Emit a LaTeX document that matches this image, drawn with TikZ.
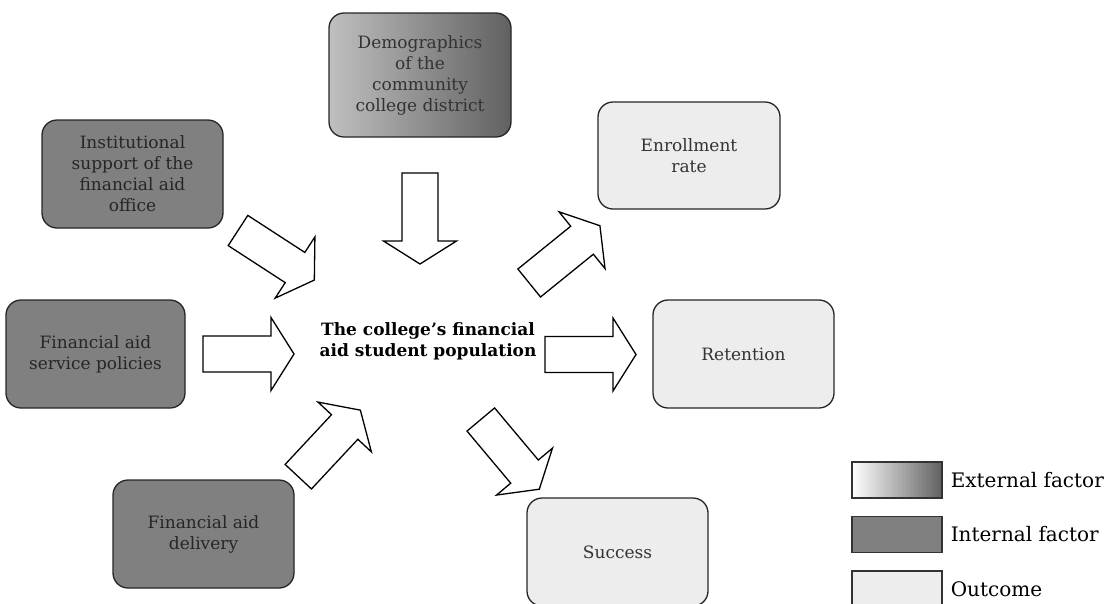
\documentclass[tikz,border=0pt]{standalone}
\usepackage{fontspec}
\setmainfont{DejaVu Serif}
\usetikzlibrary{positioning}

\begin{document}
\begin{tikzpicture}[x=1pt,y=-1pt,
factor/.style={draw=black!85, line width=1.3pt, rounded corners=15pt, align=center, inner sep=0pt, font=\fontsize{17}{21}\selectfont},
external/.style={factor, left color=black!25, right color=black!62, text=black!80},
internal/.style={factor, fill=black!50, text=black!85},
outcome/.style={factor, fill=black!7, text=black!80},
keybox/.style={draw=black!80, line width=1.2pt, minimum width=90pt, minimum height=36pt, inner sep=0pt},
keytext/.style={anchor=west, inner sep=0pt, font=\fontsize{20}{24}\selectfont},
bigarrow/.pic={\draw[line width=1.3pt, fill=white, line join=miter] (0,-18) -- (68,-18) -- (68,-36.5) -- (91,0) -- (68,36.5) -- (68,18) -- (0,18) -- cycle;}
]

\useasboundingbox (0,0) rectangle (1114,603);
\clip (0,0) rectangle (1114,603);


\node[external, minimum width=182pt, minimum height=124pt] (demo) at (420,75) {Demographics\\of the\\community\\college district};

\node[internal, minimum width=181pt, minimum height=108pt] (inst) at (132.5,174) {Institutional\\support of the\\financial aid\\office};
\node[internal, minimum width=179pt, minimum height=108pt] (service) at (95.5,354) {Financial aid\\service policies};
\node[internal, minimum width=181pt, minimum height=108pt] (delivery) at (203.5,534) {Financial aid\\delivery};

\node[outcome, minimum width=182pt, minimum height=107pt] (enroll) at (689,155.5) {Enrollment\\rate};
\node[outcome, minimum width=181pt, minimum height=108pt] (retention) at (743.5,354) {Retention};
\node[outcome, minimum width=181pt, minimum height=108pt] (success) at (617.5,552) {Success};


\node[align=center, font=\fontsize{17}{21}\bfseries\selectfont] (pop) at (428,341) {The college’s financial\\aid student population};


% block arrows
\pic[rotate=-90] at (420,173) {bigarrow};
\pic[rotate=-33] at (238,230.5) {bigarrow};
\pic at (203,354) {bigarrow};
\pic[rotate=47] at (298.3,476.7) {bigarrow};

\pic[rotate=39] at (529.2,283) {bigarrow};
\pic at (545,354.5) {bigarrow};
\pic[rotate=-50] at (480.8,419.5) {bigarrow};


% key
\node[keybox, left color=white, right color=black!62] (keyext) at (897,480) {};
\node[keybox, fill=black!50] (keyint) at (897,534.5) {};
\node[keybox, fill=black!7] (keyout) at (897,589) {};

\node[keytext, right=8pt of keyext] (extlabel) {External factor};
\node[keytext, right=8pt of keyint] (intlabel) {Internal factor};
\node[keytext, right=8pt of keyout] (outlabel) {Outcome};

\end{tikzpicture}
\end{document}
